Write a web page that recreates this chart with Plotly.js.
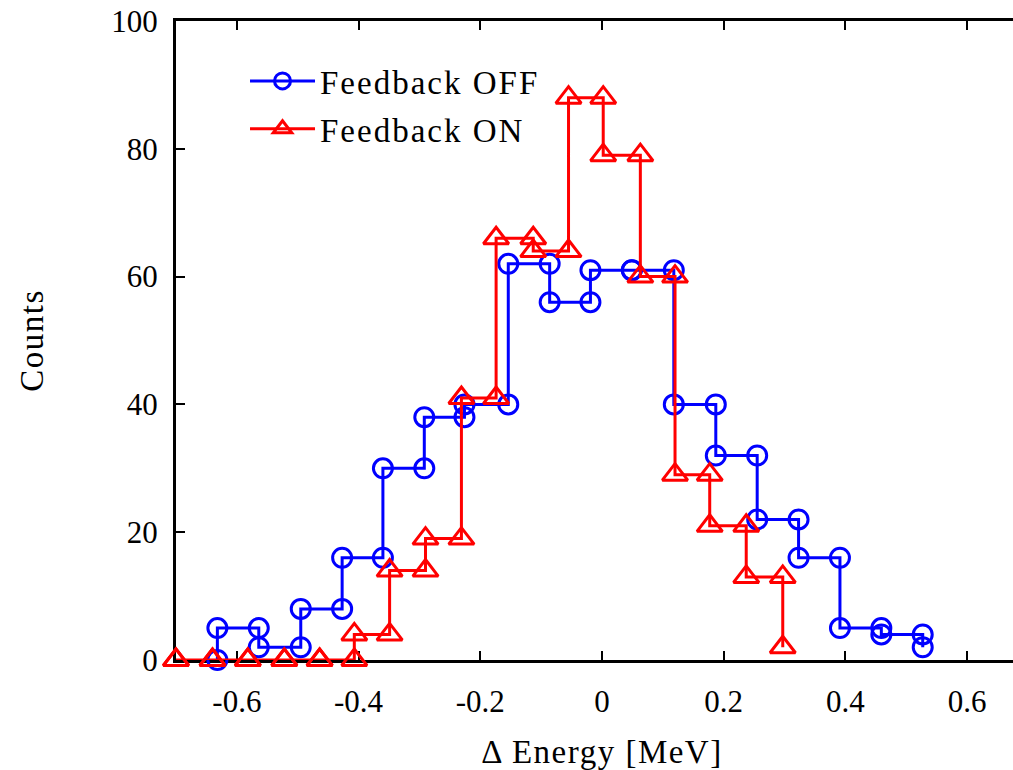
<!DOCTYPE html>
<html>
<head>
<meta charset="utf-8">
<script src="https://cdn.plot.ly/plotly-3.0.1.min.js"></script>
<style>
  html, body { margin: 0; padding: 0; overflow: hidden; background: #ffffff; }
  #chart { width: 1040px; height: 770px; }
  .legendtext { letter-spacing: 2px; }
  .xtitle, .ytitle { letter-spacing: 1.5px; }
</style>
</head>
<body>
<div id="chart"></div>
<script>
// Energy-spread histograms, drawn as step outlines (bin edges + levels).
// Each level k (k >= 1) spans edges[k-1] .. edges[k]; level 0 is the start
// of the first riser and the last level is where the final riser ends.
const offEdges  = [-0.632, -0.564, -0.495, -0.427, -0.360, -0.292, -0.226, -0.154, -0.086,
                   -0.019, 0.049, 0.118, 0.187, 0.255, 0.323, 0.391, 0.459, 0.527];
const offLevels = [0, 5, 2, 8, 16, 30, 38, 40, 62, 56, 61, 61, 40, 32, 22, 16, 5, 4, 2];

const onEdges   = [-0.700, -0.640, -0.582, -0.522, -0.464, -0.407, -0.349, -0.290, -0.231,
                   -0.174, -0.113, -0.055, 0.002, 0.063, 0.120, 0.177, 0.237, 0.297];
const onLevels  = [0, 0, 0, 0, 0, 0, 4, 14, 19, 41, 66, 64, 88, 79, 60, 29, 21, 13, 2];

const seriesNames = ['Feedback OFF', 'Feedback ON'];

const xTickVals = [-0.6, -0.4, -0.2, 0, 0.2, 0.4, 0.6];
const xTickText = ['-0.6', '-0.4', '-0.2', '0', '0.2', '0.4', '0.6'];
const yTickVals = [0, 20, 40, 60, 80, 100];
const yTickText = ['0', '20', '40', '60', '80', '100'];

// Expand edges/levels into the vertex list of a riser-first staircase,
// so every corner carries a marker.
function stairVertices(edges, levels) {
  const xs = [], ys = [];
  edges.forEach(function (e, i) {
    xs.push(e, e);
    ys.push(levels[i], levels[i + 1]);
  });
  return { xs: xs, ys: ys };
}

const off = stairVertices(offEdges, offLevels);
const on = stairVertices(onEdges, onLevels);

const BLUE = '#0000ff';
const RED = '#ff0000';
const FONT = '"Liberation Serif", "Times New Roman", serif';

const traces = [
  {
    x: off.xs, y: off.ys, name: seriesNames[0], legendgroup: 'off',
    type: 'scatter', mode: 'lines+markers', cliponaxis: false,
    line: { color: BLUE, width: 3 },
    marker: { symbol: 'circle-open', size: 19, color: BLUE, line: { color: BLUE, width: 3 } },
    hoverinfo: 'skip'
  },
  {
    x: on.xs, y: on.ys, name: seriesNames[1], legendgroup: 'on',
    type: 'scatter', mode: 'lines+markers', cliponaxis: false,
    line: { color: RED, width: 3 },
    marker: { symbol: 'triangle-up-open', size: 22, color: RED, line: { color: RED, width: 3 } },
    hoverinfo: 'skip'
  }
];

const axisCommon = {
  showline: true, linecolor: '#000000', linewidth: 3,
  mirror: 'ticks', ticks: 'inside', ticklen: 9, tickwidth: 2, tickcolor: '#000000',
  showgrid: false, zeroline: false, layer: 'below traces',
  tickfont: { family: FONT, size: 31, color: '#000000' }
};

const layout = {
  width: 1040, height: 770,
  margin: { l: 176, r: 12, t: 21, b: 110 },
  paper_bgcolor: '#ffffff', plot_bgcolor: '#ffffff',
  font: { family: FONT, size: 31, color: '#000000' },
  showlegend: true,
  legend: {
    x: 0.081, y: 0.95, xanchor: 'left', yanchor: 'top',
    bgcolor: 'rgba(0,0,0,0)', borderwidth: 0,
    font: { family: FONT, size: 33, color: '#000000' },
    itemwidth: 65, tracegroupgap: 2
  },
  xaxis: Object.assign({}, axisCommon, {
    range: [-0.7, 0.7], tickmode: 'array', tickvals: xTickVals, ticktext: xTickText,
    ticklabelstandoff: 12,
    title: { text: 'Δ Energy [MeV]', font: { family: FONT, size: 33, color: '#000000' }, standoff: 28 }
  }),
  yaxis: Object.assign({}, axisCommon, {
    range: [0, 100], tickmode: 'array', tickvals: yTickVals, ticktext: yTickText,
    ticklabelstandoff: 9,
    title: { text: 'Counts', font: { family: FONT, size: 33, color: '#000000' }, standoff: 58 }
  })
};

Plotly.newPlot('chart', traces, layout, { staticPlot: true, displayModeBar: false });
</script>
</body>
</html>
